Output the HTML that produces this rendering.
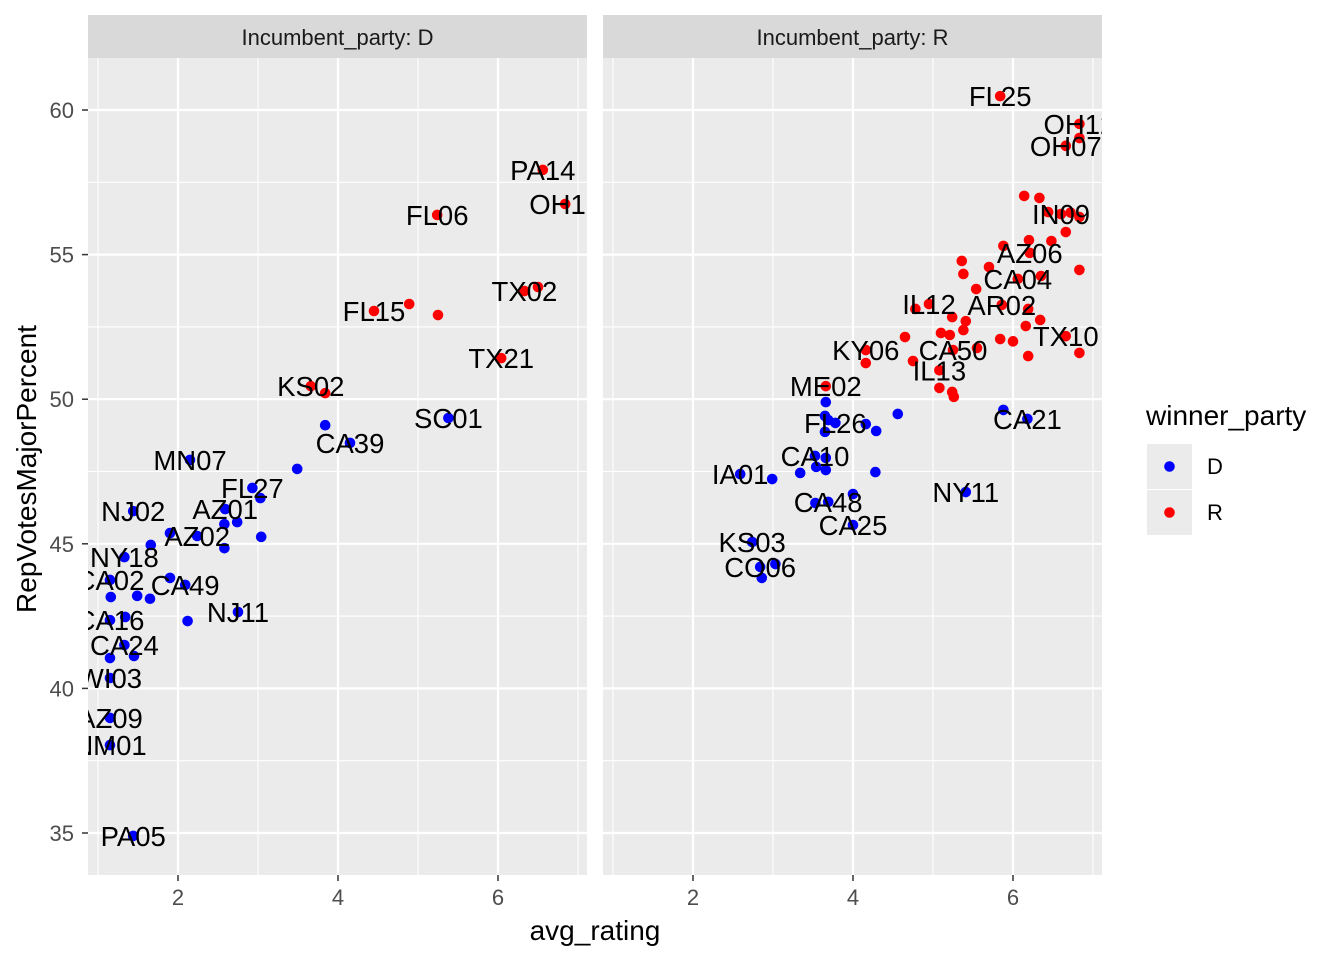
<!DOCTYPE html>
<html><head><meta charset="utf-8"><style>
body{margin:0;background:#fff;}
svg text{font-family:"Liberation Sans",Arial,sans-serif;}
</style></head><body>
<svg id="chart" width="1344" height="960" xmlns="http://www.w3.org/2000/svg">
<defs>
<clipPath id="c1"><rect x="88" y="58" width="499" height="817"/></clipPath>
<clipPath id="c2"><rect x="603" y="58" width="499" height="817"/></clipPath>
</defs>
<g id="root"></g>
</svg>
<script>
const xTicks=[2,4,6];
const xMinor=[1,3,5,7];
const yTicks=[35,40,45,50,55,60];
const yMinor=[37.5,42.5,47.5,52.5,57.5];
const facets=["D","R"];
// Panel D data
const dX=[6.56,6.84,5.24,6.33,6.5,4.45,4.89,5.25,6.04,3.66,3.84,5.38,3.84,4.15,3.49,2.15,2.93,3.03,2.59,2.74,2.58,3.04,2.58,1.44,1.66,1.9,2.24,1.33,1.15,1.49,1.65,1.16,1.9,2.09,2.12,2.75,1.15,1.34,1.33,1.15,1.45,1.15,1.15,1.15,1.44];
const dY=[57.93,56.75,56.37,53.74,53.88,53.05,53.29,52.91,51.42,50.45,50.21,49.35,49.1,48.49,47.59,47.9,46.93,46.58,46.2,45.75,45.68,45.24,44.85,46.13,44.96,45.37,45.27,44.54,43.75,43.2,43.1,43.16,43.82,43.58,42.33,42.64,42.36,42.47,41.5,41.05,41.12,40.36,38.98,38.04,34.9];
const dW=["R","R","R","R","R","R","R","R","R","R","R","D","D","D","D","D","D","D","D","D","D","D","D","D","D","D","D","D","D","D","D","D","D","D","D","D","D","D","D","D","D","D","D","D","D"];
const dL=["PA14","OH16","FL06","TX02","","FL15","","","TX21","KS02","","SC01","","CA39","","MN07","FL27","","AZ01","","","","","NJ02","","","AZ02","NY18","CA02","","","","","CA49","","NJ11","CA16","","CA24","","","WI03","AZ09","NM01","PA05"];
// Panel R data
const rX=[5.84,6.83,6.83,6.66,6.14,6.33,6.44,6.6,6.72,6.83,6.66,6.2,6.48,5.88,6.21,5.7,5.36,5.38,6.35,6.83,6.06,5.54,4.95,4.78,5.86,6.19,5.24,5.41,6.34,6.16,5.1,5.21,5.38,4.65,5.84,6.0,6.66,6.19,6.83,5.55,4.16,4.16,5.25,4.75,5.08,5.08,5.24,5.26,3.66,3.66,3.65,3.69,3.78,3.65,4.16,4.56,4.29,6.18,5.88,3.525,3.66,3.54,3.66,3.34,2.99,2.59,4.28,4.0,3.69,3.53,5.41,4.0,2.74,3.03,2.84,2.86];
const rY=[60.48,59.52,59.03,58.76,57.03,56.96,56.47,56.4,56.45,56.3,55.78,55.5,55.47,55.3,55.06,54.57,54.78,54.33,54.26,54.47,54.16,53.81,53.29,53.12,53.26,53.12,52.84,52.7,52.74,52.53,52.29,52.22,52.39,52.15,52.08,52.0,52.18,51.49,51.6,51.77,51.7,51.25,51.7,51.32,51.0,50.39,50.25,50.08,50.45,49.9,49.42,49.28,49.18,48.87,49.14,49.49,48.9,49.32,49.63,48.04,47.97,47.66,47.55,47.45,47.24,47.41,47.48,46.72,46.45,46.41,46.79,45.65,45.06,44.3,44.2,43.82];
const rW=["R","R","R","R","R","R","R","R","R","R","R","R","R","R","R","R","R","R","R","R","R","R","R","R","R","R","R","R","R","R","R","R","R","R","R","R","R","R","R","R","R","R","R","R","R","R","R","R","R","D","D","D","D","D","D","D","D","D","D","D","D","D","D","D","D","D","D","D","D","D","D","D","D","D","D","D"];
const rL=["FL25","OH12","","OH07","","","","IN09","","","","","","","AZ06","","","","","","CA04","","IL12","","AR02","","","","","","","","","","","","TX10","","","","KY06","","CA50","","IL13","","","","ME02","","","","FL26","","","","","CA21","","CA10","","","","","","IA01","","","CA48","","NY11","CA25","KS03","","CO06",""];

const NS="http://www.w3.org/2000/svg";
const root=document.getElementById('root');
const py0=58,py1=875;
function sy(v){return 110+(60-v)*28.92;}
function sxp(v,panel){return (panel===0?178:693)+(v-2)*80;}
function mk(tag,attrs,parent){const e=document.createElementNS(NS,tag);for(const k in attrs)e.setAttribute(k,attrs[k]);(parent||root).appendChild(e);return e;}
const pLeft=[88,603];
facets.forEach((f,p)=>{
  const L=pLeft[p];
  const bg=mk('rect',{x:L,y:py0,width:499,height:817,fill:'#EBEBEB'});
  
  
  yMinor.forEach(v=>{const l=mk('line',{x1:L,x2:L+499,y1:sy(v),y2:sy(v),stroke:'#fff','stroke-width':1.1});
    
    });
  xMinor.forEach(v=>{const l=mk('line',{x1:sxp(v,p),x2:sxp(v,p),y1:py0,y2:py1,stroke:'#fff','stroke-width':1.1});
    
    });
  yTicks.forEach(v=>{const l=mk('line',{x1:L,x2:L+499,y1:sy(v),y2:sy(v),stroke:'#fff','stroke-width':2.2});
    
    });
  xTicks.forEach(v=>{const x=sxp(v,p);
    const l=mk('line',{x1:x,x2:x,y1:py0,y2:py1,stroke:'#fff','stroke-width':2.2});
    
    
    const t=mk('line',{x1:x,x2:x,y1:py1,y2:py1+6,stroke:'#333','stroke-width':1.5});
    
    
    const tx=mk('text',{x:x,y:py1+30,'text-anchor':'middle','font-size':22,fill:'#4D4D4D'});tx.textContent=v;
    
    });
  const st=mk('rect',{x:L,y:15,width:499,height:43,fill:'#D9D9D9'});
  
  
  const stt=mk('text',{x:L+249.5,y:45,'text-anchor':'middle','font-size':22,fill:'#1A1A1A'});stt.textContent='Incumbent_party: '+f;
  
  
  const g=mk('g',{'clip-path':'url(#c'+(p+1)+')'});
  
  
  const X=p===0?dX:rX,Y=p===0?dY:rY,W=p===0?dW:rW,Lb=p===0?dL:rL;
  X.forEach((v,i)=>{const c=mk('circle',{cx:sxp(v,p),cy:sy(Y[i]),r:5.3,fill:W[i]==='D'?'#0000FF':'#FF0000'},g);
    
    });
  X.forEach((v,i)=>{if(!Lb[i])return;const t=mk('text',{x:sxp(v,p),y:sy(Y[i])+10,'text-anchor':'middle','font-size':27.5,fill:'#000'},g);t.textContent=Lb[i];
    
    });
});
yTicks.forEach(v=>{const y=sy(v);
  const t=mk('line',{x1:82,x2:88,y1:y,y2:y,stroke:'#333','stroke-width':1.5});
  
  
  const tx=mk('text',{x:74,y:y+8,'text-anchor':'end','font-size':22,fill:'#4D4D4D'});tx.textContent=v;
  
  });
const xt=mk('text',{x:595,y:940,'text-anchor':'middle','font-size':28,fill:'#000'});xt.textContent='avg_rating';


const yt=mk('text',{x:0,y:0,transform:'translate(36,469) rotate(-90)','text-anchor':'middle','font-size':28,fill:'#000'});yt.textContent='RepVotesMajorPercent';


const lg=mk('g',{});


const lt=mk('text',{x:1146,y:425,'font-size':28,fill:'#000'},lg);lt.textContent='winner_party';


[["D","#0000FF",444],["R","#FF0000",490]].forEach(([k,c,y])=>{
  const r=mk('rect',{x:1147,y:y,width:45,height:45,fill:'#EBEBEB'},lg);
  
  
  const d=mk('circle',{cx:1169.5,cy:y+22.5,r:5.3,fill:c},lg);
  
  
  const t=mk('text',{x:1207,y:y+30,'font-size':22,fill:'#000'},lg);t.textContent=k;
  
  
});
</script>
</body></html>
